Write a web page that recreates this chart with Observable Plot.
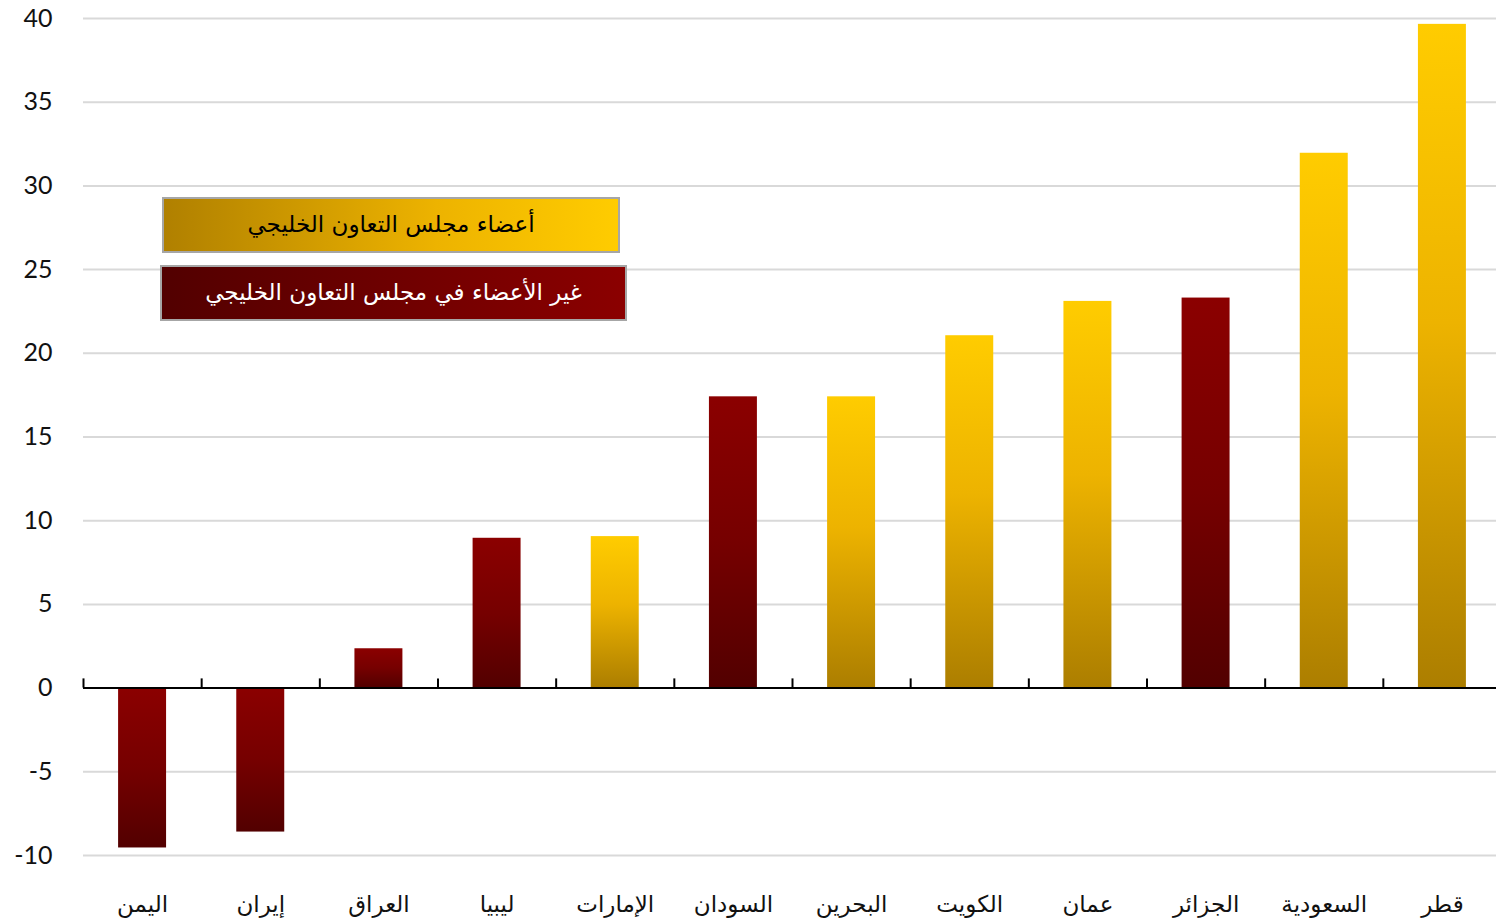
<!DOCTYPE html>
<html><head><meta charset="utf-8">
<script src="https://cdn.jsdelivr.net/npm/d3@7"></script>
<script src="https://cdn.jsdelivr.net/npm/@observablehq/plot@0.6"></script>
<style>
body{margin:0;background:#fff}
#wrap{position:relative;width:1496px;height:923px;overflow:hidden}
.leg{position:absolute;box-sizing:border-box;border:2px solid #a6a6a6;display:flex;align-items:center;justify-content:center;font-family:"DejaVu Sans",sans-serif;font-size:23px;direction:rtl;padding-bottom:2px}
</style>
</head><body><div id="wrap"></div>
<script>
const countries = ["اليمن","إيران","العراق","ليبيا","الإمارات","السودان","البحرين","الكويت","عمان","الجزائر","السعودية","قطر"];
const values = [-9.55, -8.6, 2.35, 8.95, 9.05, 17.4, 17.4, 21.05, 23.1, 23.3, 31.95, 39.65];
const isGcc = [false,false,false,false,true,false,true,true,true,false,true,true];
const yTicks = [-10,-5,0,5,10,15,20,25,30,35,40];
const legendLabels = ["أعضاء مجلس التعاون الخليجي","غير الأعضاء في مجلس التعاون الخليجي"];

const data = countries.map((c,i)=>({country:c, value:values[i], gcc:isGcc[i]}));
const W = 1496, H = 923, mL = 83, mR = 0, mT = 18, mB = 68;
const xRange = [mL, W + 5];
const step = (xRange[1] - xRange[0]) / countries.length;

function gradients() {
  const ns = "http://www.w3.org/2000/svg";
  const d = document.createElementNS(ns, "defs");
  d.innerHTML = `
    <linearGradient id="gold" x1="0" y1="0" x2="0" y2="1">
      <stop offset="0" stop-color="#FFCC00"/>
      <stop offset="0.45" stop-color="#EDB300"/>
      <stop offset="1" stop-color="#AC7E00"/>
    </linearGradient>
    <linearGradient id="red" x1="0" y1="0" x2="0" y2="1">
      <stop offset="0" stop-color="#8B0000"/>
      <stop offset="0.5" stop-color="#760000"/>
      <stop offset="1" stop-color="#520000"/>
    </linearGradient>`;
  return d;
}

const chart = Plot.plot({
  width: W, height: H,
  marginLeft: mL, marginRight: mR, marginTop: mT, marginBottom: mB,
  x: {domain: countries, range: xRange, round: false, paddingInner: 0.594, paddingOuter: 0.297, axis: null, label: null},
  y: {domain: [-10, 40], axis: null, label: null},
  marks: [
    gradients,
    Plot.ruleY(yTicks.filter(d => d !== 0), {stroke: "#d9d9d9", strokeWidth: 2}),
    Plot.barY(data.filter(d => d.gcc), {x: "country", y: "value", fill: "url(#gold)"}),
    Plot.barY(data.filter(d => !d.gcc), {x: "country", y: "value", fill: "url(#red)"}),
    Plot.ruleY([0], {stroke: "#000", strokeWidth: 2}),
    Plot.ruleX(countries, {x: d => d, y1: 0, y2: 0.55, dx: -step/2, stroke: "#000", strokeWidth: 2}),
    Plot.axisY({ticks: yTicks, tickSize: 0, tickPadding: 31, tickFormat: d => String(d), fontSize: 25, fontFamily: "Lato, 'Open Sans', sans-serif", fill: "#111", label: null}),
    Plot.axisX({tickSize: 0, tickPadding: 40, fontSize: 23, fontFamily: "'DejaVu Sans', sans-serif", fill: "#111", label: null})
  ]
});
chart.style.overflow = "visible";
const wrap = document.getElementById("wrap");
wrap.appendChild(chart);

const l1 = document.createElement("div");
l1.className = "leg";
Object.assign(l1.style, {left:"162px", top:"197px", width:"458px", height:"56px", background:"linear-gradient(to right,#B08000,#EDB300 60%,#FFCC00)", color:"#000"});
l1.textContent = legendLabels[0];
const l2 = document.createElement("div");
l2.className = "leg";
Object.assign(l2.style, {left:"160px", top:"265px", width:"467px", height:"56px", background:"linear-gradient(to right,#520000,#8B0000)", color:"#fff"});
l2.textContent = legendLabels[1];
wrap.appendChild(l1); wrap.appendChild(l2);
</script>
</body></html>
